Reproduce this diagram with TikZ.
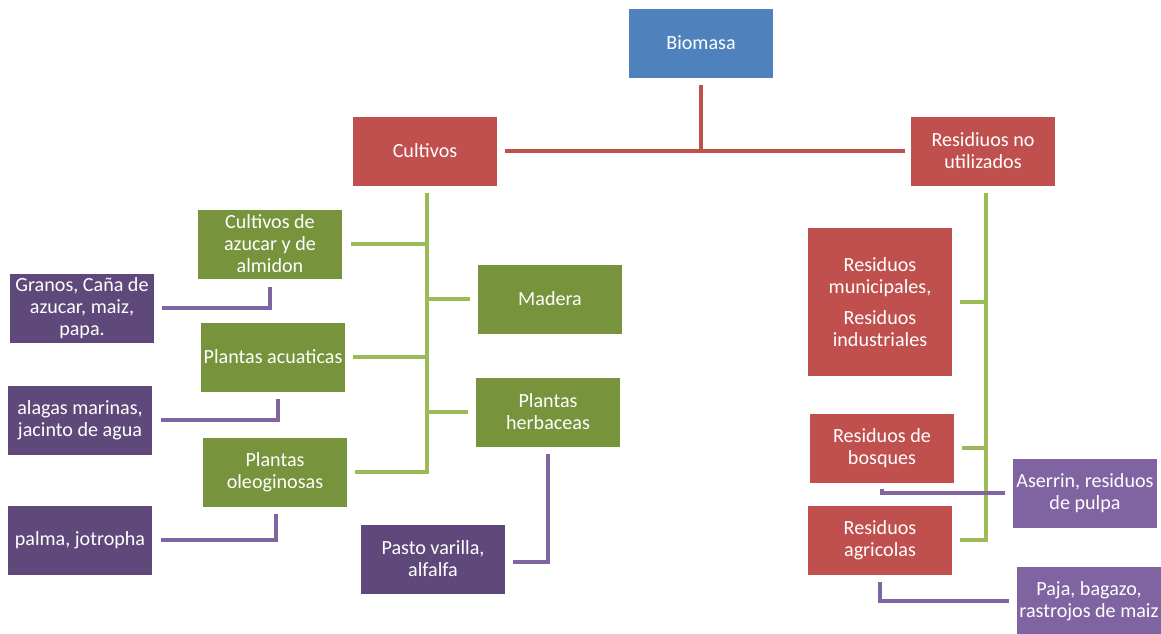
\documentclass[tikz,border=0pt]{standalone}
\usepackage{fontspec}
\setmainfont{Carlito}
\usetikzlibrary{positioning}
\definecolor{boxBlue}{HTML}{4F81BD}
\definecolor{boxRed}{HTML}{C0504D}
\definecolor{boxGreen}{HTML}{77933C}
\definecolor{lineGreen}{HTML}{9BBB59}
\definecolor{boxPlum}{HTML}{5F497A}
\definecolor{boxLilac}{HTML}{8064A2}

\begin{document}
\begin{tikzpicture}[
      x=0.025cm, y=-0.025cm,
      cardnode/.style={
        rectangle, draw=white, line width=0.4pt, text=white, align=center,
        font=\fontsize{14.3pt}{15.6pt}\selectfont, inner sep=0pt,
        minimum width=3.625cm, minimum height=1.75cm
      },
      bluebox/.style={cardnode, fill=boxBlue},
      redbox/.style={cardnode, fill=boxRed},
      greenbox/.style={cardnode, fill=boxGreen},
      plumbox/.style={cardnode, fill=boxPlum},
      lilacbox/.style={cardnode, fill=boxLilac},
      redlink/.style={draw=boxRed, line width=3.5pt},
      greenlink/.style={draw=lineGreen, line width=2.8pt},
      plumlink/.style={draw=boxLilac, line width=2.8pt}
    ]
      \useasboundingbox (0,0) rectangle (1161,633);

      % top levels
      \node[bluebox] (bio) at (701,43) {Biomasa};
      \node[redbox] (cult) at (425,151) {Cultivos};
      \node[redbox] (resid) at (983,151) {Residiuos no\\utilizados};

      % cultivos
      \node[greenbox] (azuc) at (270,244) {Cultivos de\\azucar y de\\almidon};
      \node[greenbox] (acua) at (273,357) {Plantas acuaticas};
      \node[greenbox] (oleo) at (275,472) {Plantas\\oleoginosas};
      \node[greenbox] (mad) at (550,299) {Madera};
      \node[greenbox] (herb) at (548,412) {Plantas\\herbaceas};

      \node[plumbox] (gran) at (82,308) {Granos, Caña de\\azucar, maiz,\\papa.};
      \node[plumbox] (alga) at (80,420) {alagas marinas,\\jacinto de agua};
      \node[plumbox] (palm) at (80,540) {palma, jotropha};
      \node[plumbox] (past) at (433,559) {Pasto varilla,\\alfalfa};

      % residuos
      \node[redbox, minimum height=3.725cm] (muni) at (880,302) {Residuos\\municipales,\\[6pt]Residuos\\industriales};
      \node[redbox] (bosq) at (882,448) {Residuos de\\bosques};
      \node[redbox] (agri) at (880,540) {Residuos\\agricolas};

      \node[lilacbox] (aser) at (1085,493) {Aserrin, residuos\\de pulpa};
      \node[lilacbox] (paja) at (1089,601) {Paja, bagazo,\\rastrojos de maiz};

      \coordinate (ltrunk) at ([xshift=0.5mm,yshift=-1.75mm]cult.south);
      \coordinate (rtrunk) at ([xshift=0.75mm,yshift=-1.75mm]resid.south);

      \draw[redlink] ([yshift=-1.75mm]bio.south) |- ([xshift=1.75mm]cult.east);
      \draw[redlink] ([yshift=-1.75mm]bio.south) |- ([xshift=-1.25mm]resid.west);

      \draw[greenlink] (ltrunk) |- ([xshift=1.75mm]oleo.east);
      \draw[greenlink] ([xshift=2mm]azuc.east) -- (azuc.east -| ltrunk);
      \draw[greenlink] ([xshift=1.75mm]acua.east) -- (acua.east -| ltrunk);
      \draw[greenlink] ([xshift=-1.75mm]mad.west) -- (mad.west -| ltrunk);
      \draw[greenlink] ([xshift=-1.75mm]herb.west) -- (herb.west -| ltrunk);

      \draw[plumlink] ([xshift=1.75mm]gran.east) -| ([yshift=-2mm]azuc.south);
      \draw[plumlink] ([xshift=2mm]alga.east) -| ([xshift=1.25mm,yshift=-1.75mm]acua.south);
      \draw[plumlink] ([xshift=2mm]palm.east) -| ([xshift=0.25mm,yshift=-1.75mm]oleo.south);
      \draw[plumlink] ([xshift=1.75mm,yshift=-0.75mm]past.east) -| ([yshift=-1.75mm]herb.south);

      \draw[greenlink] (rtrunk) |- ([xshift=1.75mm]agri.east);
      \draw[greenlink] ([xshift=1.75mm]muni.east) -- (muni.east -| rtrunk);
      \draw[greenlink] ([xshift=1.75mm]bosq.east) -- (bosq.east -| rtrunk);

      \draw[plumlink] ([xshift=-1.75mm]aser.west) -| ([yshift=-1.5mm]bosq.south);
      \draw[plumlink] ([xshift=-1.75mm]paja.west) -| ([yshift=-1.75mm]agri.south);
    \end{tikzpicture}
\end{document}
